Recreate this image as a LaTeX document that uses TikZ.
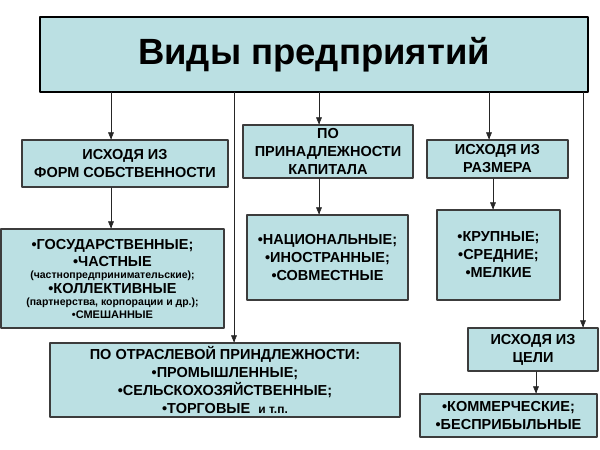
\documentclass[tikz,border=0pt]{standalone}
\usepackage{fontspec}
\setmainfont{Liberation Sans}
\usetikzlibrary{arrows}
\definecolor{boxfill}{RGB}{187,224,227}
\definecolor{boxline}{RGB}{60,60,60}

\begin{document}
\begin{tikzpicture}[line cap=round,line join=round,>=triangle 45,x=1pt,y=-1pt,
  box/.style={draw=boxline,line width=1.3pt,fill=boxfill,align=center,inner sep=0pt,
    font=\bfseries\fontsize{14.5}{18}\selectfont},
  lnk/.style={->,line width=0.6pt,draw=black!85}]

\useasboundingbox (0,0) rectangle (600,450);
%% title
\node [box,draw=black,line width=2pt,minimum width=548pt,minimum height=75pt,
  font=\bfseries\fontsize{36.5}{40}\selectfont] (title) at (314,54.5) {Виды предприятий};
%% groups
\node [box,minimum width=206pt,minimum height=47pt] (own) at (125,163.5) {ИСХОДЯ ИЗ\\ФОРМ СОБСТВЕННОСТИ};
\node [box,minimum width=223pt,minimum height=99pt] (ownlist) at (112.5,278.5)
  {•ГОСУДАРСТВЕННЫЕ;\\[-1pt]
   •ЧАСТНЫЕ\\[-6pt]
   {\fontsize{10.5}{12}\selectfont (частнопредпринимательские);}\\[-3pt]
   •КОЛЛЕКТИВНЫЕ\\[-6pt]
   {\fontsize{10.5}{12}\selectfont (партнерства, корпорации и др.);}\\[-5pt]
   {\fontsize{11}{12}\selectfont •СМЕШАННЫЕ}};
\node [box,minimum width=170pt,minimum height=53pt] (cap) at (328,151.5) {ПО\\ПРИНАДЛЕЖНОСТИ\\КАПИТАЛА};
\node [box,minimum width=161pt,minimum height=85pt] (caplist) at (327.5,257.5) {•НАЦИОНАЛЬНЫЕ;\\•ИНОСТРАННЫЕ;\\•СОВМЕСТНЫЕ};
\node [box,minimum width=141pt,minimum height=38pt] (size) at (497.5,159) {ИСХОДЯ ИЗ\\РАЗМЕРА};
\node [box,minimum width=123pt,minimum height=90pt] (sizelist) at (498.5,255) {•КРУПНЫЕ;\\•СРЕДНИЕ;\\•МЕЛКИЕ};
\node [box,minimum width=350pt,minimum height=74pt] (branch) at (225,380)
  {ПО ОТРАСЛЕВОЙ ПРИНДЛЕЖНОСТИ:\\•ПРОМЫШЛЕННЫЕ;\\•СЕЛЬСКОХОЗЯЙСТВЕННЫЕ;\\•ТОРГОВЫЕ\ \ {\fontsize{12}{18}\selectfont и т.п.}};
\node [box,minimum width=130pt,minimum height=43pt] (goal) at (533,349.5) {ИСХОДЯ ИЗ\\ЦЕЛИ};
\node [box,minimum width=177pt,minimum height=43pt] (goallist) at (508.5,415.5) {•КОММЕРЧЕСКИЕ;\\•БЕСПРИБЫЛЬНЫЕ};

%% arrows
\coordinate (t1) at (111,92);
\coordinate (t2) at (234,92);
\coordinate (t3) at (319,92);
\coordinate (t4) at (489,92);
\coordinate (t5) at (583,92);
\coordinate (s1) at (493,0);
\coordinate (g1) at (536,0);
\draw [lnk] (t1) -- (t1 |- own.north);
\draw [lnk] (t1 |- own.south) -- (t1 |- ownlist.north);
\draw [lnk] (t2) -- (t2 |- branch.north);
\draw [lnk] (t3) -- (t3 |- cap.north);
\draw [lnk] (t3 |- cap.south) -- (t3 |- caplist.north);
\draw [lnk] (t4) -- (t4 |- size.north);
\draw [lnk] (s1 |- size.south) -- (s1 |- sizelist.north);
\draw [lnk] (t5) -- (t5 |- goal.north);
\draw [lnk] (g1 |- goal.south) -- (g1 |- goallist.north);
\end{tikzpicture}
\end{document}
